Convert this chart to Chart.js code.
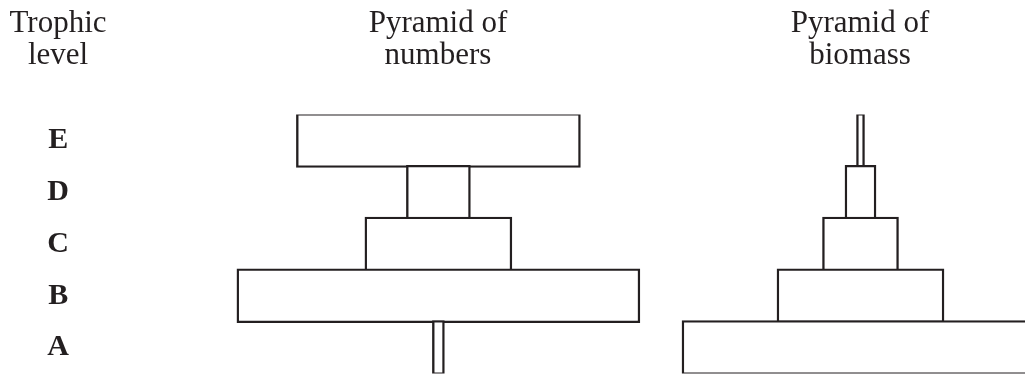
<!DOCTYPE html>
<html>
<head>
<meta charset="utf-8">
<script src="https://cdn.jsdelivr.net/npm/chart.js@4.4.1/dist/chart.umd.min.js"></script>
<style>
  html, body { margin: 0; padding: 0; background: #fff; }
  #wrap { position: relative; width: 1025px; height: 376px; overflow: hidden; }
  #chart { position: absolute; left: 0; top: 0; }
  .head {
    position: absolute; top: 6px; width: 200px; text-align: center;
    font-family: 'Liberation Serif', 'DejaVu Serif', serif; font-size: 31px;
    line-height: 32px; color: #231f20;
  }
</style>
</head>
<body>
<div id="wrap">
  <canvas id="chart" width="1025" height="376"></canvas>
  <div class="head" style="left:-42px">Trophic<br>level</div>
  <div class="head" style="left:338px">Pyramid of<br>numbers</div>
  <div class="head" style="left:760px">Pyramid of<br>biomass</div>
</div>
<script>
// trophic levels, top to bottom
const levels = ['E', 'D', 'C', 'B', 'A'];
// relative bar widths
const numbersWidth = [284, 64, 147, 403, 12];
const biomassWidth = [8, 31, 76, 167, 357];

const INK = '#231f20';
const AXIS_W = 77;          // width kept for the level letters
const NUM_CENTER = 438.4;   // middle of the numbers pyramid
const BIO_CENTER = 860.5;   // middle of the biomass pyramid
const PLOT_W = 1025 - AXIS_W;

// each bar is centred on zero
const centred = w => w.map(v => [-v / 2, v / 2]);

new Chart(document.getElementById('chart'), {
  type: 'bar',
  data: {
    labels: levels,
    datasets: [{
      label: 'Pyramid of numbers',
      data: centred(numbersWidth),
      xAxisID: 'xn',
      backgroundColor: '#ffffff',
      borderColor: INK
    }, {
      label: 'Pyramid of biomass',
      data: centred(biomassWidth),
      xAxisID: 'xb',
      backgroundColor: '#ffffff',
      borderColor: INK
    }]
  },
  options: {
    indexAxis: 'y',
    responsive: false,
    animation: false,
    layout: { padding: { top: 114.6, bottom: 2.6, left: 0, right: 0 } },
    datasets: {
      bar: {
        grouped: false,
        // a little taller than a row so that touching edges share one line
        barThickness: 54,
        borderWidth: 2.4,
        borderSkipped: false
      }
    },
    plugins: {
      legend: { display: false },
      tooltip: { enabled: false },
      title: { display: false }
    },
    scales: {
      y: {
        type: 'category',
        grid: { display: false },
        border: { display: false },
        afterFit: s => {
          s.width = AXIS_W;
          s.paddingTop = 0;
          s.paddingBottom = 0;
        },
        ticks: {
          padding: 0,
          crossAlign: 'center',
          color: INK,
          font: { family: 'Liberation Serif', size: 30, weight: 'bold' }
        }
      },
      xn: {
        type: 'linear', position: 'bottom', display: false,
        min: -(NUM_CENTER - AXIS_W), max: AXIS_W + PLOT_W - NUM_CENTER
      },
      xb: {
        type: 'linear', position: 'bottom', display: false,
        min: -(BIO_CENTER - AXIS_W), max: AXIS_W + PLOT_W - BIO_CENTER
      }
    }
  }
});
</script>
</body>
</html>
